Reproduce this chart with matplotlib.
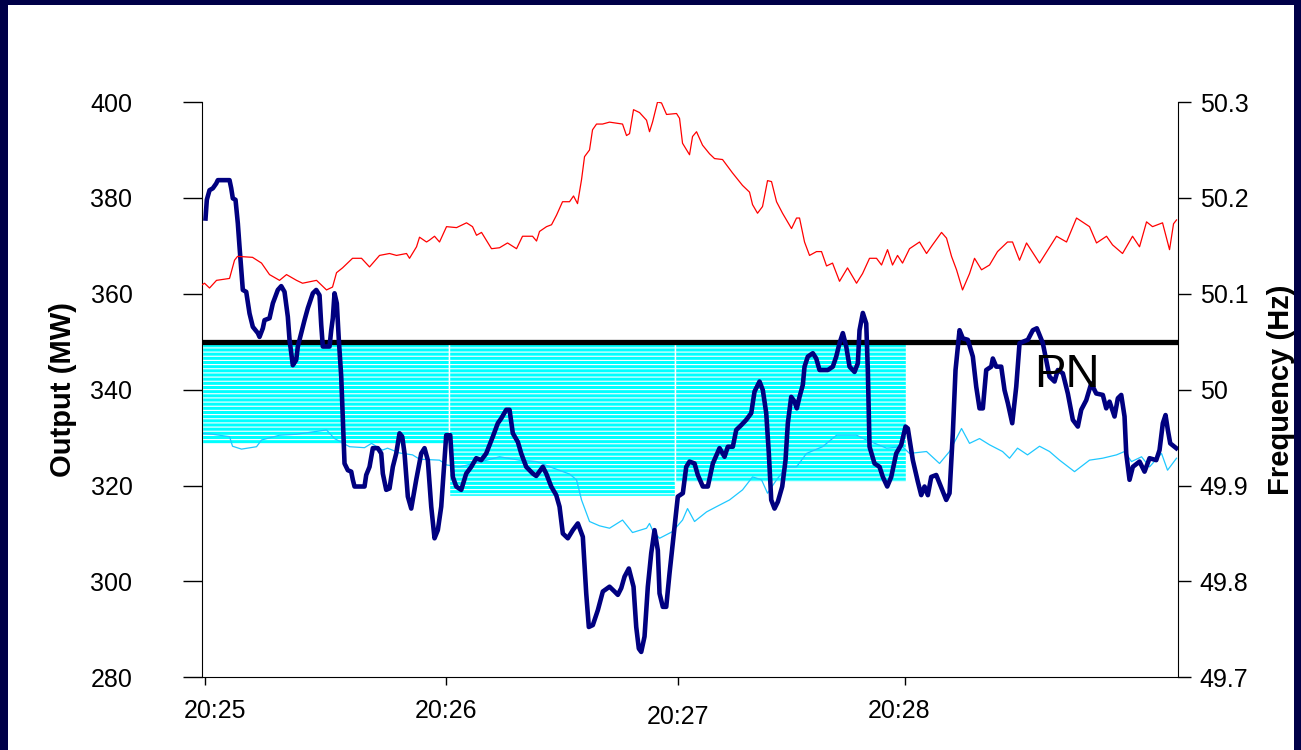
import matplotlib
matplotlib.use("Agg")
import matplotlib.pyplot as plt
from matplotlib.patches import Rectangle
from matplotlib.ticker import FuncFormatter
from matplotlib.transforms import ScaledTranslation

plt.rcParams['font.family'] = ['Liberation Sans', 'DejaVu Sans']
plt.rcParams['hatch.linewidth'] = 0.8

# x axis is in samples (0 .. 976 across the window)
tick_pos = [3, 244, 476, 703]
tick_labels = ['20:25', '20:26', '20:27', '20:28']

pn = 350  # physical notification (MW)

# required response blocks: start sample, end sample, lower level (MW)
block_start = [0, 247, 473]
block_end = [247, 473, 704]
block_low = [328.7, 317.8, 320.8]

# system frequency (Hz), right axis
freq_x = [0, 3, 8, 15, 28, 33, 36, 51, 60, 68, 78, 85, 95, 101, 115, 125, 131, 135, 141, 151,
          160, 168, 178, 188, 195, 205, 208, 215, 218, 225, 228, 233, 238, 245, 255, 265, 271,
          275, 280, 290, 298, 306, 315, 321, 331, 335, 338, 345, 350, 355, 361, 368, 372, 376,
          380, 383, 388, 391, 395, 401, 408, 421, 425, 428, 432, 438, 445, 448, 451, 456, 460,
          465, 475, 478, 481, 488, 491, 495, 501, 508, 513, 521, 531, 541, 548, 551, 556, 561,
          566, 570, 575, 581, 590, 595, 598, 603, 608, 615, 620, 625, 631, 638, 646, 655, 661,
          668, 675, 680, 686, 691, 696, 701, 708, 718, 725, 731, 740, 745, 750, 755, 761, 768,
          773, 780, 788, 796, 806, 811, 818, 825, 838, 855, 865, 875, 888, 895, 905, 911, 921,
          931, 938, 945, 951, 961, 968, 972, 975]
freq_hz = [50.109, 50.111, 50.106, 50.114, 50.116, 50.135, 50.139, 50.138, 50.132, 50.120,
           50.114, 50.120, 50.114, 50.111, 50.114, 50.104, 50.107, 50.122, 50.127, 50.137,
           50.137, 50.128, 50.140, 50.142, 50.140, 50.142, 50.137, 50.149, 50.159, 50.154,
           50.156, 50.160, 50.154, 50.170, 50.169, 50.174, 50.170, 50.161, 50.164, 50.147,
           50.148, 50.153, 50.147, 50.160, 50.160, 50.155, 50.165, 50.170, 50.172, 50.182,
           50.196, 50.196, 50.202, 50.194, 50.219, 50.243, 50.250, 50.271, 50.277, 50.277,
           50.279, 50.277, 50.265, 50.267, 50.292, 50.289, 50.281, 50.269, 50.279, 50.300,
           50.299, 50.287, 50.288, 50.283, 50.257, 50.245, 50.264, 50.269, 50.255, 50.246,
           50.241, 50.240, 50.226, 50.213, 50.206, 50.193, 50.184, 50.191, 50.218, 50.217,
           50.196, 50.184, 50.168, 50.179, 50.179, 50.154, 50.140, 50.144, 50.144, 50.129,
           50.132, 50.113, 50.127, 50.111, 50.121, 50.137, 50.137, 50.130, 50.146, 50.130,
           50.140, 50.132, 50.147, 50.154, 50.142, 50.151, 50.164, 50.158, 50.139, 50.125,
           50.104, 50.121, 50.137, 50.125, 50.130, 50.144, 50.154, 50.154, 50.135, 50.153,
           50.132, 50.160, 50.154, 50.179, 50.170, 50.153, 50.160, 50.151, 50.142, 50.160,
           50.149, 50.175, 50.170, 50.174, 50.146, 50.173, 50.177]

# expected output from frequency response (MW)
expected_x = [0, 11, 28, 31, 40, 55, 60, 78, 95, 125, 133, 148, 163, 170, 181, 186, 198, 211,
              218, 238, 245, 258, 278, 298, 318, 335, 351, 368, 375, 380, 388, 398, 408, 421,
              431, 445, 448, 451, 458, 471, 481, 486, 493, 505, 515, 528, 541, 551, 560, 566,
              575, 585, 595, 605, 621, 635, 655, 665, 685, 701, 708, 725, 738, 748, 760, 768,
              778, 788, 801, 808, 816, 826, 838, 848, 858, 873, 888, 901, 915, 923, 930, 940,
              948, 960, 966, 975]
expected_mw = [330.9, 330.7, 330.2, 328.2, 327.6, 328.1, 329.5, 330.5, 330.7, 331.6, 329.8,
               328.1, 327.9, 328.8, 327.4, 327.8, 326.8, 326.4, 325.5, 325.3, 324.3, 323.9,
               324.9, 326.0, 325.3, 325.0, 323.7, 322.4, 321.2, 317.0, 312.5, 311.6, 311.1,
               312.8, 310.2, 311.1, 312.1, 310.7, 309.0, 310.4, 312.8, 315.2, 312.5, 314.5,
               315.6, 317.0, 319.1, 321.8, 321.2, 318.4, 321.2, 323.9, 323.9, 326.7, 328.1,
               330.5, 330.5, 329.5, 327.8, 328.1, 326.7, 327.1, 324.6, 327.1, 331.9, 328.8,
               329.8, 328.5, 327.1, 325.7, 327.8, 326.4, 328.2, 327.1, 325.3, 322.9, 325.3,
               325.7, 326.4, 327.1, 325.0, 326.0, 323.9, 326.7, 323.2, 325.7]

# metered output (MW)
output_x = [4, 5.3, 8, 11.3, 14.7, 16.3, 28, 29.7, 31.3, 34, 36.3, 38, 41.3, 44.7, 48, 51.3,
            56.3, 58, 61.3, 63, 68, 71.3, 76.3, 79.7, 83, 86.3, 88, 91.3, 94.7, 96.3, 99.7,
            103, 106.3, 111.3, 114.7, 118, 119.7, 121.3, 128, 129.7, 131.3, 133, 135.3, 137.3,
            139.7, 141.3, 143, 146.3, 149.7, 151.3, 153, 163, 164.7, 168, 171.3, 176.3, 179.7,
            181.3, 184.7, 188, 191.3, 194.7, 198, 200.7, 203, 206.3, 209.7, 214.7, 219.7, 223,
            226.3, 229.7, 233, 236.3, 239.7, 243, 244.7, 248.7, 251.3, 254.7, 259.7, 264.7,
            269.7, 274.7, 279.7, 284.7, 291.3, 296.3, 299.7, 304.7, 308, 311.3, 316.3, 319.7,
            324.7, 331.3, 334.7, 341.3, 344.7, 349.7, 354.7, 358, 361.3, 366.3, 371.3, 376.3,
            381.3, 384.7, 387.3, 391.3, 396.3, 401.3, 408, 413, 416.3, 419.7, 423, 427.3, 432,
            434.7, 437.3, 439.7, 443, 446.3, 449.7, 453, 456.3, 458, 461.3, 464.7, 468, 473,
            476.3, 481.3, 484.7, 488, 493, 496.3, 501.3, 506.3, 511.3, 518, 523, 526.3, 531.3,
            534.7, 539.7, 544.7, 549.7, 553, 558, 561.3, 564.7, 567.3, 569.7, 573, 576.3,
            580.7, 584, 586.3, 589.7, 593, 595.3, 598, 601.3, 603, 606.3, 611.3, 614.7, 618,
            626.3, 631.3, 634.7, 638, 641.3, 644.7, 648, 653, 656.3, 658, 661.3, 664.7, 666.3,
            668, 673, 678, 681.3, 685.7, 689.7, 694.7, 699.7, 704, 706.3, 711.3, 716.3, 719.7,
            723, 726.3, 729.7, 734.7, 738, 744.7, 748, 751.3, 754, 758, 761.3, 766.3, 771.3,
            774.7, 778, 781.3, 784.7, 789.7, 791.3, 794.7, 799.7, 803, 806.3, 810.7, 814.7,
            818, 826.3, 831.3, 835.3, 841.3, 848, 853, 856.3, 861.3, 866.3, 871.3, 876.3,
            879.7, 884.7, 889.7, 894.7, 901.3, 904.7, 908, 913, 916.3, 919.7, 923, 924.7, 928,
            931.3, 938, 943, 948, 954.7, 958, 961.3, 964, 966.3, 968.7, 973, 974.7]
output_mw = [375.7, 379.6, 381.6, 382.0, 383.0, 383.7, 383.7, 382.0, 379.9, 379.6, 374.7,
             369.8, 360.8, 360.4, 355.9, 353.1, 351.8, 351.0, 352.8, 354.5, 354.9, 358.0,
             360.8, 361.6, 360.4, 355.2, 350.4, 345.1, 346.2, 349.0, 351.8, 354.5, 357.0,
             360.1, 360.8, 359.7, 353.5, 349.0, 349.0, 352.4, 354.9, 360.1, 358.0, 350.4,
             342.7, 333.7, 324.6, 323.2, 322.9, 321.2, 319.8, 319.8, 322.2, 323.9, 327.8,
             327.8, 326.7, 322.5, 319.1, 319.4, 323.9, 326.7, 330.9, 330.2, 326.7, 317.7,
             315.2, 321.2, 326.7, 327.8, 325.3, 315.6, 309.0, 310.7, 315.6, 325.3, 330.5,
             330.5, 321.8, 319.8, 319.1, 322.5, 323.9, 325.7, 325.3, 326.7, 330.2, 333.0,
             334.0, 335.8, 335.8, 330.9, 329.1, 326.7, 323.9, 322.5, 322.0, 323.9, 322.5,
             319.8, 318.0, 315.6, 310.0, 309.0, 310.7, 312.1, 309.3, 297.5, 290.5, 290.9,
             294.0, 297.9, 298.9, 297.9, 297.2, 298.6, 301.0, 302.7, 298.9, 290.5, 286.0,
             285.3, 288.5, 298.9, 305.9, 310.7, 306.5, 297.5, 294.7, 294.7, 301.7, 311.4,
             317.7, 318.4, 323.9, 325.0, 324.6, 322.2, 319.8, 319.8, 324.6, 327.8, 326.0,
             328.1, 328.1, 331.6, 332.6, 333.7, 335.1, 339.6, 341.7, 339.9, 335.1, 326.7,
             317.0, 315.2, 316.6, 319.8, 325.3, 333.0, 338.5, 337.5, 336.1, 338.5, 341.0,
             344.8, 346.9, 347.6, 346.5, 344.1, 344.1, 344.8, 346.9, 349.7, 351.8, 349.0,
             344.8, 343.7, 345.5, 352.4, 356.0, 353.8, 344.1, 328.1, 324.6, 323.9, 321.8,
             319.8, 321.8, 326.7, 328.5, 332.3, 331.9, 325.3, 320.8, 318.0, 319.8, 318.0,
             321.8, 322.2, 320.5, 317.0, 318.4, 330.9, 344.1, 352.4, 350.7, 350.4, 346.9,
             340.6, 336.1, 336.1, 344.1, 344.8, 346.5, 344.8, 344.8, 339.9, 337.2, 333.0,
             340.6, 349.7, 350.4, 352.4, 352.8, 349.7, 342.7, 341.7, 344.1, 343.4, 339.2,
             333.7, 332.3, 335.8, 337.8, 341.3, 339.2, 338.9, 336.1, 337.5, 334.4, 338.2,
             338.9, 334.4, 326.7, 321.2, 323.9, 325.0, 322.9, 325.7, 325.3, 327.4, 333.0,
             334.7, 331.6, 328.8, 328.1, 327.8]

fig = plt.figure(figsize=(13.01, 7.5), dpi=100)
fig.patch.set_facecolor('#000048')
# white slide area inside the navy frame
fig.add_artist(Rectangle((8 / 1301, 0), 1286 / 1301, 745 / 750, transform=fig.transFigure,
                         facecolor='white', edgecolor='none', zorder=-1))

ax = fig.add_axes([0.1549, 0.0969, 0.7502, 0.7671])

# hatched response blocks between PN and required level
for x0, x1, low in zip(block_start, block_end, block_low):
    ax.bar(x0, pn - low, width=x1 - x0, bottom=low, align='edge',
           facecolor='#00FFFF', edgecolor='white', hatch='----', linewidth=1.0, zorder=1)

ax.plot(expected_x, expected_mw, color='#1EC8FF', linewidth=0.9, zorder=2)
ax.axhline(pn, color='black', linewidth=3.8, zorder=3)
ax.plot(output_x, output_mw, color='#000080', linewidth=3.3, zorder=4, solid_joinstyle='round')
ax.text(833, 340.6, 'PN', fontsize=34, ha='left', va='baseline', zorder=5)

ax.set_xlim(0, 976)
ax.set_ylim(280, 400)
ax.set_yticks(range(280, 401, 20))
ax.set_xticks(tick_pos)
ax.set_xticklabels(tick_labels)
ax.spines['top'].set_visible(False)
ax.spines['right'].set_visible(False)
ax.tick_params(axis='y', length=13.7, width=1, pad=36, labelsize=18)
ax.tick_params(axis='x', length=5.5, width=1, pad=10, labelsize=18)
ax.set_ylabel('Output (MW)', fontsize=21, fontweight='bold')
ax.yaxis.set_label_coords(-0.128, 0.5)

# nudge the time labels a little, as on the logger printout
xticks = ax.xaxis.get_major_ticks()
xticks[2].label1.set_y(-0.011)
for tk, dx in [(xticks[0], 10), (xticks[3], -5)]:
    tk.label1.set_transform(tk.label1.get_transform()
                            + ScaledTranslation(dx / 100, 0, fig.dpi_scale_trans))

ax2 = ax.twinx()
ax2.plot(freq_x, freq_hz, color='#FF0000', linewidth=0.9)
ax2.set_ylim(49.7, 50.3)
ax2.set_yticks([49.7, 49.8, 49.9, 50.0, 50.1, 50.2, 50.3])
ax2.yaxis.set_major_formatter(FuncFormatter(lambda v, p: '%g' % round(v, 1)))
for side in ['top', 'left', 'bottom']:
    ax2.spines[side].set_visible(False)
ax2.tick_params(axis='y', length=9, width=1, pad=7, labelsize=18)
ax2.set_ylabel('Frequency (Hz)', fontsize=21, fontweight='bold')
ax2.yaxis.set_label_coords(1.092, 0.5)

fig.savefig('out.png', dpi=100, facecolor=fig.get_facecolor())
